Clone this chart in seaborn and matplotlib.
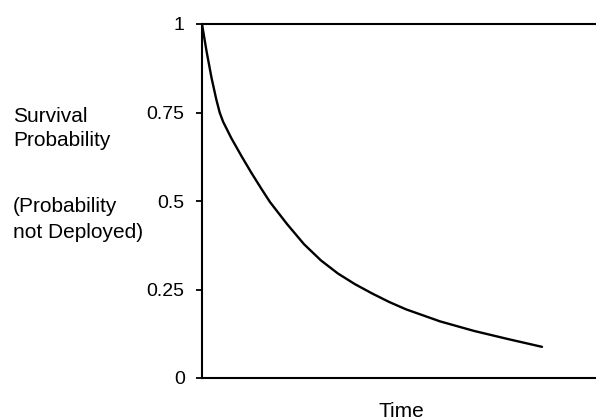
import matplotlib
matplotlib.use("Agg")
import matplotlib.pyplot as plt
import seaborn as sns
import pandas as pd

# Data
time = [0, 0.13, 0.28, 0.42, 0.52, 0.62, 0.86, 1.16, 1.45, 1.75, 2.0, 2.5, 3.0, 3.5,
        4.0, 4.5, 5.0, 5.5, 6.0, 7.0, 8.0, 9.0, 10.0]
survival = [1.0, 0.925, 0.848, 0.787, 0.75, 0.724, 0.678, 0.627, 0.58, 0.534, 0.497, 0.435,
            0.378, 0.332, 0.295, 0.265, 0.239, 0.215, 0.194, 0.16, 0.133, 0.11, 0.088]
ytick_values = [0, 0.25, 0.5, 0.75, 1]
ytick_labels = ["0", "0.25", "0.5", "0.75", "1"]

sns.set_theme(style="white")
plt.rcParams["font.family"] = ["Liberation Sans", "DejaVu Sans"]

df = pd.DataFrame({"Time": time, "Survival": survival})

W, H = 596, 420
fig = plt.figure(figsize=(W / 100, H / 100), dpi=100)
ax = fig.add_axes([202 / W, 42 / H, (600 - 202) / W, 354 / H])

sns.lineplot(data=df, x="Time", y="Survival", ax=ax, color="black", linewidth=1.7)

ax.set_xlim(0, 398 / 34)
ax.set_ylim(0, 1)
ax.set_xticks([])
ax.set_yticks(ytick_values)
ax.set_yticklabels(ytick_labels, fontsize=14, color="black")
ax.tick_params(axis="y", direction="out", length=4, width=1.3, color="black", pad=8.5, left=True)

for side in ["left", "top", "bottom"]:
    ax.spines[side].set_visible(True)
    ax.spines[side].set_color("black")
    ax.spines[side].set_linewidth(1.5)
ax.spines["right"].set_visible(False)

ax.set_ylabel("")
ax.set_xlabel("Time", fontsize=15, color="black", labelpad=17)

ylabel_lines = [("Survival", 116), ("Probability", 141), ("(Probability", 207), ("not Deployed)", 232)]
for txt, ypix in ylabel_lines:
    fig.text(13 / W, 1 - ypix / H, txt, ha="left", va="center", fontsize=15, color="black")

fig.savefig("out.png", dpi=100)
